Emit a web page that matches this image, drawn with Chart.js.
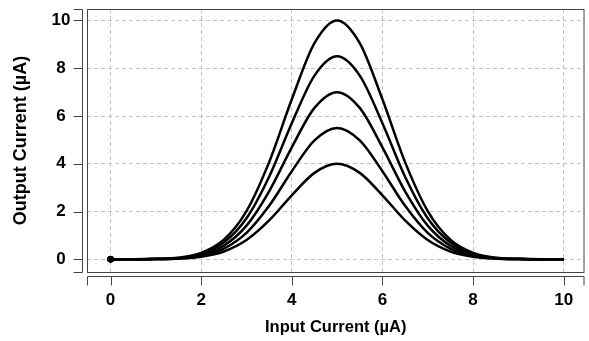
<!DOCTYPE html>
<html>
<head>
<meta charset="utf-8">
<script src="https://cdn.jsdelivr.net/npm/chart.js@4"></script>
<style>
  body { margin: 0; background: #fff; }
  #wrap { width: 589px; height: 341px; position: relative; }
</style>
</head>
<body>
<div id="wrap"><canvas id="gaussChart"></canvas></div>
<script>
// Input current (µA) sample points
const inputCurrent = [0, 0.5, 1, 1.5, 2, 2.5, 3, 3.5, 4, 4.5, 5, 5.5, 6, 6.5, 7, 7.5, 8, 8.5, 9, 9.5, 10];

// Output current (µA), one curve per peak height
const curvePeak10  = [0, 0, 0.02, 0.07, 0.27, 0.82, 2.02, 4.07, 6.70, 9.05, 10, 9.05, 6.70, 4.07, 2.02, 0.82, 0.27, 0.07, 0.02, 0, 0];
const curvePeak85  = [0, 0, 0.01, 0.06, 0.23, 0.70, 1.72, 3.46, 5.70, 7.69, 8.5, 7.69, 5.70, 3.46, 1.72, 0.70, 0.23, 0.06, 0.01, 0, 0];
const curvePeak7   = [0, 0, 0.01, 0.05, 0.19, 0.57, 1.41, 2.85, 4.69, 6.34, 7, 6.34, 4.69, 2.85, 1.41, 0.57, 0.19, 0.05, 0.01, 0, 0];
const curvePeak55  = [0, 0, 0.01, 0.04, 0.15, 0.45, 1.11, 2.24, 3.69, 4.98, 5.5, 4.98, 3.69, 2.24, 1.11, 0.45, 0.15, 0.04, 0.01, 0, 0];
const curvePeak4   = [0, 0, 0.01, 0.03, 0.11, 0.33, 0.81, 1.63, 2.68, 3.62, 4, 3.62, 2.68, 1.63, 0.81, 0.33, 0.11, 0.03, 0.01, 0, 0];

const allCurves = [curvePeak10, curvePeak85, curvePeak7, curvePeak55, curvePeak4];

const xTicks = [0, 2, 4, 6, 8, 10];
const yTicks = [0, 2, 4, 6, 8, 10];

const FONT = '"Liberation Sans", Arial, Helvetica, sans-serif';
const AXIS_COLOR = '#444';

// vẽ khung và trục tách rời kiểu R
const rAxesPlugin = {
    id: 'rAxes',
    afterDraw(chart) {
        const { ctx, chartArea: a, scales } = chart;
        const tickLen = 9;
        ctx.save();
        ctx.strokeStyle = AXIS_COLOR;
        ctx.lineWidth = 1;

        // khung
        ctx.strokeRect(a.left + 0.5, a.top + 0.5, a.right - a.left - 1, a.bottom - a.top);

        // trục y
        const yx = a.left - 4.5;
        ctx.beginPath();
        ctx.moveTo(yx - tickLen, a.top + 0.5);
        ctx.lineTo(yx, a.top + 0.5);
        ctx.lineTo(yx, a.bottom + 0.5);
        ctx.lineTo(yx - tickLen, a.bottom + 0.5);
        yTicks.forEach(v => {
            const py = Math.round(scales.y.getPixelForValue(v)) + 0.5;
            ctx.moveTo(yx, py);
            ctx.lineTo(yx - tickLen, py);
        });
        ctx.stroke();

        // trục x
        const xy = a.bottom + 4.5;
        ctx.beginPath();
        ctx.moveTo(a.left + 0.5, xy + tickLen);
        ctx.lineTo(a.left + 0.5, xy);
        ctx.lineTo(a.right - 0.5, xy);
        ctx.lineTo(a.right - 0.5, xy + tickLen);
        xTicks.forEach(v => {
            const px = Math.round(scales.x.getPixelForValue(v)) + 0.5;
            ctx.moveTo(px, xy);
            ctx.lineTo(px, xy + tickLen);
        });
        ctx.stroke();
        ctx.restore();
    }
};

const datasets = allCurves.map(curve => ({
    data: inputCurrent.map((x, i) => ({ x: x, y: curve[i] })),
    borderColor: '#000',
    backgroundColor: '#000',
    borderWidth: 2.5,
    cubicInterpolationMode: 'monotone',
    pointRadius: ctx => (ctx.dataIndex === 0 ? 2 : 0),
    pointHoverRadius: 0,
    fill: false
}));

const gridOpts = {
    display: true,
    drawTicks: false,
    color: '#c2c2c2',
    lineWidth: 1
};

new Chart(document.getElementById('gaussChart'), {
    type: 'line',
    data: { datasets: datasets },
    options: {
        responsive: true,
        maintainAspectRatio: false,
        animation: false,
        layout: { padding: { left: 0, right: 2, top: 9, bottom: 0 } },
        plugins: {
            legend: { display: false },
            tooltip: { enabled: false }
        },
        scales: {
            x: {
                type: 'linear',
                min: -0.52,
                max: 10.46,
                afterFit: s => {
                    s.height = 69;
                    s.paddingLeft = 0;
                    s.paddingRight = 0;
                },
                border: { display: false, dash: [4, 3] },
                grid: gridOpts,
                ticks: {
                    stepSize: 2,
                    includeBounds: false,
                    autoSkip: false,
                    maxRotation: 0,
                    padding: 18,
                    color: '#000',
                    font: { family: FONT, size: 17, weight: 'bold' }
                },
                title: {
                    display: true,
                    text: 'Input Current (µA)',
                    color: '#000',
                    font: { family: FONT, size: 16.5, weight: 'bold' },
                    padding: { top: 0, bottom: 4 }
                }
            },
            y: {
                min: -0.53,
                max: 10.48,
                afterFit: s => {
                    s.width = 87;
                    s.paddingTop = 0;
                    s.paddingBottom = 0;
                },
                border: { display: false, dash: [4, 3] },
                grid: gridOpts,
                ticks: {
                    stepSize: 2,
                    includeBounds: false,
                    crossAlign: 'center',
                    padding: 16.5,
                    color: '#000',
                    font: { family: FONT, size: 17, weight: 'bold' }
                },
                title: {
                    display: true,
                    text: 'Output Current (µA)',
                    color: '#000',
                    font: { family: FONT, size: 18, weight: 'bold' },
                    padding: { top: 10, bottom: 0 }
                }
            }
        }
    },
    plugins: [rAxesPlugin]
});
</script>
</body>
</html>
